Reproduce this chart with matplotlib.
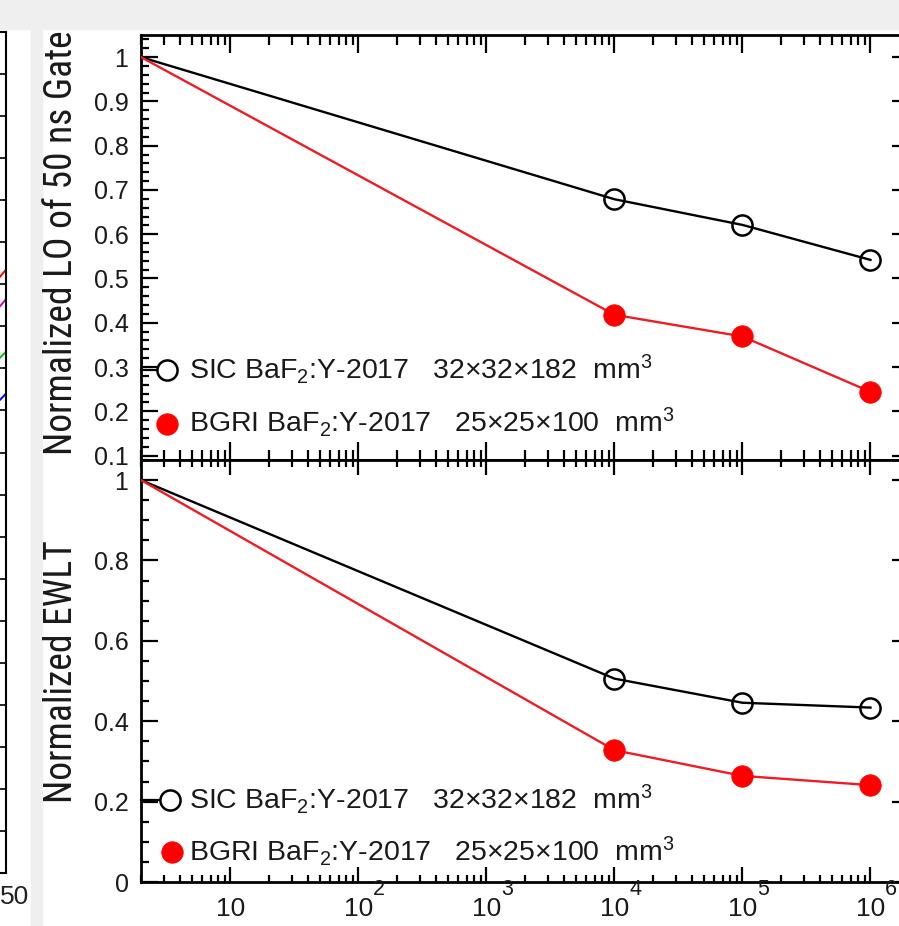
import matplotlib
matplotlib.use("Agg")
import matplotlib.pyplot as plt
import numpy as np
from matplotlib import font_manager
from matplotlib.patches import Rectangle
from matplotlib.ticker import FixedLocator, MultipleLocator, LogLocator, NullFormatter, FixedFormatter

# ---------------- data ----------------
dose = [2, 1e4, 1e5, 1e6]            # first point plotted at left edge (before irradiation)
lo_sic = [1.0, 0.679, 0.621, 0.542]
lo_bgri = [1.0, 0.418, 0.369, 0.244]
ewlt_sic = [1.0, 0.506, 0.446, 0.434]
ewlt_bgri = [1.0, 0.328, 0.264, 0.241]

label_sic = r"SIC BaF$_2$:Y-2017   32$\times$32$\times$182  mm$^3$"
label_bgri = r"BGRI BaF$_2$:Y-2017   25$\times$25$\times$100  mm$^3$"
ylabel_top = "Normalized LO of 50 ns Gate"
ylabel_bot = "Normalized EWLT"
x_major = [1e1, 1e2, 1e3, 1e4, 1e5, 1e6]
x_major_base = ["10", "10", "10", "10", "10", "10"]
x_major_exp = ["", "2", "3", "4", "5", "6"]
top_yticks = [0.1, 0.2, 0.3, 0.4, 0.5, 0.6, 0.7, 0.8, 0.9, 1.0]
top_yticklabels = ["0.1", "0.2", "0.3", "0.4", "0.5", "0.6", "0.7", "0.8", "0.9", "1"]
bot_yticks = [0, 0.2, 0.4, 0.6, 0.8, 1.0]
bot_yticklabels = ["0", "0.2", "0.4", "0.6", "0.8", "1"]

# partial neighbouring chart visible at the left edge
side_x = [96, 100]
side_red = [14.0, 14.35]
side_magenta = [13.3, 13.65]
side_green = [12.1, 12.4]
side_blue = [11.1, 11.4]

# ---------------- fonts ----------------
names = {f.name for f in font_manager.fontManager.ttflist}
narrow = next((n for n in ["Liberation Sans Narrow", "DejaVu Sans Condensed", "Roboto Condensed"] if n in names), "Liberation Sans")
plt.rcParams["font.family"] = ["Liberation Sans", "DejaVu Sans"]
plt.rcParams["mathtext.fontset"] = "custom"
plt.rcParams["mathtext.rm"] = "Liberation Sans"
plt.rcParams["mathtext.it"] = "Liberation Sans"
plt.rcParams["mathtext.default"] = "regular"

W, H = 899, 926
fig = plt.figure(figsize=(W / 100, H / 100), dpi=100)

def box(l, t, r, b):
    return [l / W, 1 - b / H, (r - l) / W, (b - t) / H]

gray = "#efefef"
fig.patches.append(Rectangle((0, 1 - 29 / H), 1, 29 / H, transform=fig.transFigure, color=gray, zorder=-10))
fig.patches.append(Rectangle((31 / W, 0), 11 / W, 1, transform=fig.transFigure, color=gray, zorder=-10))

# ---------------- left partial chart ----------------
axl = fig.add_axes(box(-300, 32, 6, 873))
axl.plot(side_x, side_red, color="red", lw=1.4)
axl.plot(side_x, side_magenta, color="#cc00cc", lw=1.4)
axl.plot(side_x, side_green, color="#00c000", lw=1.4)
axl.plot(side_x, side_blue, color="#0000ff", lw=1.4)
axl.set_xlim(0, 100)
axl.set_ylim(0, 20)
axl.yaxis.set_major_locator(MultipleLocator(1))
axl.tick_params(axis="y", direction="in", left=True, right=True, length=5, width=1.2, labelleft=False)
axl.tick_params(axis="x", bottom=False, labelbottom=False)
for s in axl.spines.values():
    s.set_linewidth(1.5)
fig.text(0 / W, 1 - 904 / H, "50", fontsize=19, ha="left", va="baseline", color="#222222")

# ---------------- main panels ----------------
ax1 = fig.add_axes(box(141, 35, 909, 460))
ax2 = fig.add_axes(box(141, 460, 909, 882))

kw_sic = dict(color="black", lw=1.7, marker="o", ms=14.5, mfc="none", mec="black", mew=1.8,
              markevery=[1, 2, 3])
kw_bgri = dict(color="#ee1c24", lw=1.7, marker="o", ms=15.5, mfc="red", mec="red", mew=0.5,
               markevery=[1, 2, 3])

ax1.plot(dose, lo_sic, **kw_sic, zorder=3)
ax1.plot(dose, lo_bgri, **kw_bgri, zorder=3)
ax2.plot(dose, ewlt_sic, **kw_sic, zorder=3)
ax2.plot(dose, ewlt_bgri, **kw_bgri, zorder=3)

for ax in (ax1, ax2):
    ax.set_xscale("log")
    ax.set_xlim(2, 2e6)
    ax.xaxis.set_major_locator(FixedLocator(x_major))
    ax.xaxis.set_minor_locator(LogLocator(base=10, subs=np.arange(2, 10), numticks=30))
    ax.xaxis.set_minor_formatter(NullFormatter())
    for s in ax.spines.values():
        s.set_linewidth(2.0)
    ax.tick_params(which="both", direction="in", top=True, bottom=True, left=True, right=True,
                   width=1.6, labelsize=18, pad=9, labelcolor="#1a1a1a")

ax1.set_ylim(0.09, 1.05)
ax1.set_yticks(top_yticks)
ax1.set_yticklabels(top_yticklabels)
ax1.yaxis.set_minor_locator(MultipleLocator(0.02))
ax1.tick_params(axis="y", which="major", length=12)
ax1.tick_params(axis="y", which="minor", length=6)
ax1.tick_params(axis="x", which="major", length=13)
ax1.tick_params(axis="x", which="minor", length=7)
ax1.tick_params(axis="x", labelbottom=False)

ax2.set_ylim(0, 1.05)
ax2.set_yticks(bot_yticks)
ax2.set_yticklabels(bot_yticklabels)
ax2.yaxis.set_minor_locator(MultipleLocator(0.05))
ax2.tick_params(axis="y", which="major", length=12)
ax2.tick_params(axis="y", which="minor", length=6)
ax2.tick_params(axis="x", which="major", length=11)
ax2.tick_params(axis="x", which="minor", length=5)
ax2.xaxis.set_major_formatter(FixedFormatter(x_major_base))
ax2.tick_params(axis="x", which="major", labelsize=19, pad=11)
for xv, e in zip(x_major, x_major_exp):
    if e:
        ax2.annotate(e, xy=(xv, 0), xycoords=("data", "axes fraction"), xytext=(10.5, -13),
                     textcoords="offset points", fontsize=15.5, ha="left", va="bottom",
                     color="#1a1a1a")

# y labels
fig.text(61 / W, 1 - 243 / H, ylabel_top, rotation=90, ha="center", va="center",
         fontsize=27, family=[narrow, "Liberation Sans"], color="#1a1a1a")
fig.text(61 / W, 1 - 672 / H, ylabel_bot, rotation=90, ha="center", va="center",
         fontsize=27, family=[narrow, "Liberation Sans"], color="#1a1a1a")

# legends (drawn manually)
def legend_rows(ax, ax_top, ax_bot, rows):
    hgt = ax_bot - ax_top
    for (mx, my, tb, kind, text) in rows:
        fy = (ax_bot - my) / hgt
        fx = (mx - 141) / 768
        if kind == "sic":
            ax.plot([0, fx], [fy, fy], transform=ax.transAxes, color="black", lw=1.6, clip_on=False)
            ax.plot([fx], [fy], transform=ax.transAxes, ls="none", marker="o", ms=14.5,
                    mfc="white", mec="black", mew=1.8)
        else:
            ax.plot([fx], [fy], transform=ax.transAxes, ls="none", marker="o", ms=15.5,
                    mfc="red", mec="red", mew=0.5)
        ax.text((189 - 141) / 768, (ax_bot - tb) / hgt, text, transform=ax.transAxes,
                fontsize=20.5, ha="left", va="baseline", color="#1a1a1a")

legend_rows(ax1, 35, 460, [(167, 370, 379, "sic", label_sic), (167, 424, 432, "bgri", label_bgri)])
legend_rows(ax2, 460, 882, [(170, 800, 809, "sic", label_sic), (172, 852, 861, "bgri", label_bgri)])

fig.savefig("out.png", dpi=100)
